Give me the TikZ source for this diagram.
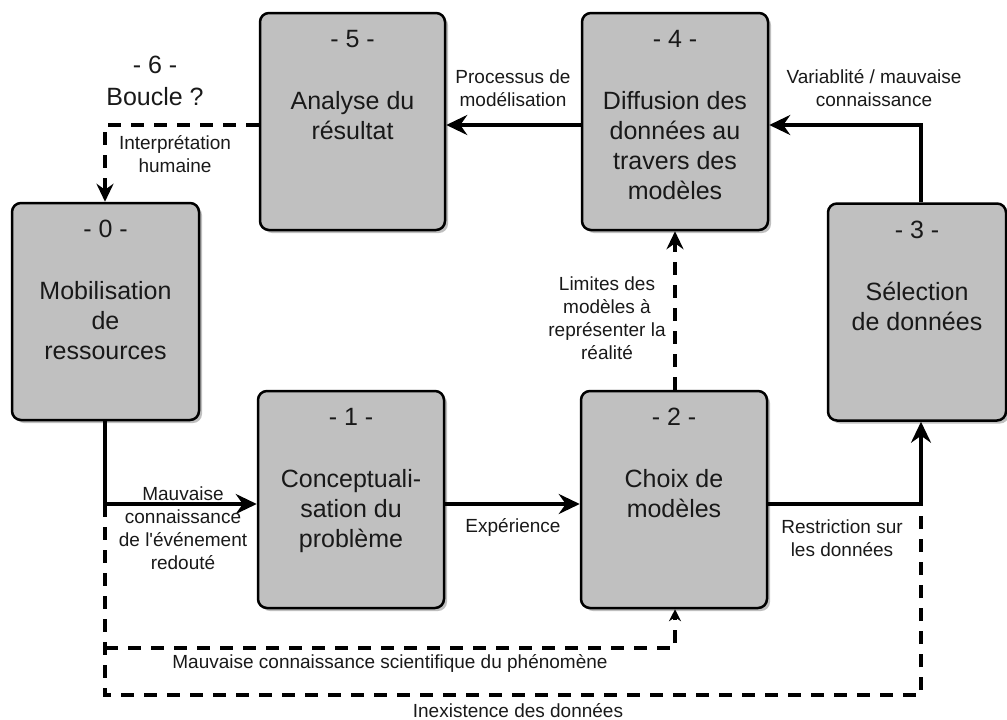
\documentclass[tikz,border=0pt]{standalone}
\usepackage{fontspec}
\setmainfont{Liberation Sans}[Ligatures=TeXOff]
\usetikzlibrary{arrows.meta,shadows}
\definecolor{boxgray}{RGB}{192,192,192}
\definecolor{txt}{RGB}{25,25,25}
\begin{document}
\begin{tikzpicture}[x=1pt,y=-1pt,
  box/.style={draw=black, line width=2.5pt, rounded corners=9pt, fill=boxgray,
    minimum width=#1, minimum height=217pt, inner sep=0pt,
    drop shadow={shadow xshift=3pt, shadow yshift=-3pt, opacity=0.25, fill=black}},
  ttl/.style={font=\fontsize{25}{30}\selectfont, anchor=base, inner sep=0pt, text=txt},
  bdy/.style={font=\fontsize{25}{30}\selectfont, anchor=north, align=center, inner sep=0pt, text=txt},
  big/.style={font=\fontsize{25}{32}\selectfont, align=center, inner sep=0pt, text=txt},
  lbl/.style={font=\fontsize{19}{23}\selectfont, align=center, inner sep=0pt, text=txt},
  arr/.style={line width=3.3pt, -{Stealth[length=21pt,width=20pt,inset=7pt]}},
  dsh/.style={line width=3.3pt, dash pattern=on 13pt off 10pt},
  darr/.style={dsh, -{Stealth[length=18pt,width=17pt,inset=6pt]}},
  sarr/.style={dsh, -{Stealth[length=12pt,width=12pt,inset=4pt]}}
]
\useasboundingbox (0,0) rectangle (1007,720);

% boxes
\node[box=185pt] (b5) at (352.5,121.5) {};
\node[box=186pt] (b4) at (675,121.5) {};
\node[box=187pt] (b0) at (105.5,311.5) {};
\node[box=178pt] (b3) at (917,312) {};
\node[box=186pt] (b1) at (351,499.5) {};
\node[box=186pt] (b2) at (674,499.5) {};

% titles
\node[ttl] (t5) at ([yshift=-36pt]b5.north) {- 5 -};
\node[ttl] (t4) at ([yshift=-36pt]b4.north) {- 4 -};
\node[ttl] (t0) at ([yshift=-36pt]b0.north) {- 0 -};
\node[ttl] (t3) at ([yshift=-36pt]b3.north) {- 3 -};
\node[ttl] (t1) at ([yshift=-36pt]b1.north) {- 1 -};
\node[ttl] (t2) at ([yshift=-36pt]b2.north) {- 2 -};

% bodies
\node[bdy] (m5) at ([yshift=-77pt]b5.north) {\strut Analyse du\\résultat};
\node[bdy] (m4) at ([yshift=-77pt]b4.north) {\strut Diffusion des\\données au\\travers des\\modèles};
\node[bdy] (m0) at ([yshift=-77pt]b0.north) {\strut Mobilisation\\de\\ressources};
\node[bdy] (m3) at ([yshift=-77pt]b3.north) {\strut Sélection\\de données};
\node[bdy] (m1) at ([yshift=-77pt]b1.north) {\strut Conceptuali-\\sation du\\problème};
\node[bdy] (m2) at ([yshift=-77pt]b2.north) {\strut Choix de\\modèles};

% helper coordinates
\coordinate (ya) at (0,125);
\coordinate (yb) at (0,504);
\coordinate (yc) at (0,648);
\coordinate (yd) at (0,695);
\coordinate (xl) at (105,0);
\coordinate (xm) at (675,0);
\coordinate (xr) at (921,0);

% solid connectors
\draw[arr] (b0.south -| xl) -- (xl |- yb) -- (b1.west |- yb);
\draw[arr] (b1.east |- yb) -- (b2.west |- yb);
\draw[arr] (b2.east |- yb) -- (xr |- yb) -- (b3.south -| xr);
\draw[arr] (b3.north -| xr) -- (xr |- ya) -- (b4.east |- ya);
\draw[arr] (b4.west |- ya) -- (b5.east |- ya);

% dashed connectors
\draw[darr] (b5.west |- ya) -- (xl |- ya) -- (b0.north -| xl);
\draw[darr] (b2.north -| xm) -- (b4.south -| xm);
\draw[dsh] (xl |- yb) -- (xl |- yd) -- (xr |- yd) -- (xr |- yb);
\draw[sarr] (xl |- yc) -- (xm |- yc) -- (b2.south -| xm);

% labels
\node[lbl] (l01) at (183,528) {Mauvaise\\connaissance\\de l'événement\\redouté};
\node[lbl] (l12) at (513,527) {Expérience};
\node[lbl] (l23) at (842,538.5) {Restriction sur\\les données};
\node[lbl] (l34) at (874,88) {Variablité / mauvaise\\connaissance};
\node[lbl] (l45) at (513,88) {Processus de\\modélisation};
\node[big] (l6) at (155,81) {- 6 -\\Boucle ?};
\node[lbl] (l50) at (175,154) {Interprétation\\humaine};
\node[lbl] (l24) at (607,318) {Limites des\\modèles à\\représenter la\\réalité};
\node[lbl] (lsci) at (390,663) {Mauvaise connaissance scientifique du phénomène};
\node[lbl] (lin) at (518,711) {Inexistence des données};
\end{tikzpicture}
\end{document}
